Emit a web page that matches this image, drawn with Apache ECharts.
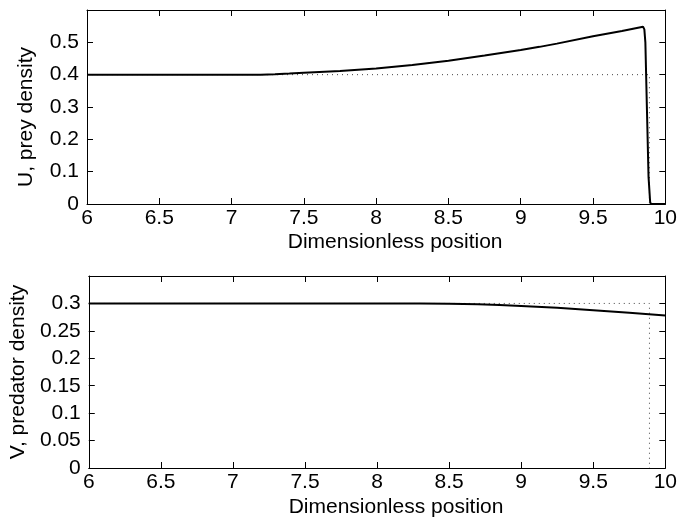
<!DOCTYPE html>
<html>
<head>
<meta charset="utf-8">
<script src="https://cdn.jsdelivr.net/npm/echarts@6/dist/echarts.min.js"></script>
<style>html,body{margin:0;padding:0;background:#fff}#c{width:680px;height:523px}</style>
</head>
<body>
<div id="c"></div>
<script>
// Top panel: prey density U
var uPos = [6, 6.5, 7.0, 7.2, 7.3, 7.4, 7.5, 7.75, 8.0, 8.25, 8.5, 8.75, 9.0, 9.13, 9.25, 9.5, 9.7, 9.846, 9.855, 9.862, 9.873, 9.884, 9.895, 9.90, 10];
var uVal = [0.4, 0.4, 0.4, 0.4, 0.4015, 0.4035, 0.406, 0.411, 0.419, 0.430, 0.443, 0.459, 0.476, 0.486, 0.496, 0.519, 0.535, 0.548, 0.54, 0.50, 0.29, 0.083, 0.007, 0, 0];
var uInitPos = [6, 9.89, 9.89];
var uInitVal = [0.4, 0.4, 0];
// Bottom panel: predator density V
var vPos = [6, 7.0, 8.0, 8.3, 8.5, 8.7, 8.85, 9.0, 9.25, 9.5, 9.75, 10];
var vVal = [0.3, 0.3, 0.3, 0.2998, 0.2994, 0.2985, 0.297, 0.2955, 0.292, 0.2875, 0.283, 0.278];
var vInitPos = [6, 9.89, 9.89];
var vInitVal = [0.3, 0.3, 0];
// Axis settings
var xTicks = [6, 6.5, 7, 7.5, 8, 8.5, 9, 9.5, 10];
var uTickStep = 0.1, uMax = 0.6;
var vTickStep = 0.05, vMax = 0.35;
var xName = 'Dimensionless position';
var uName = 'U, prey density';
var vName = 'V, predator density';

function zip(a, b) { return a.map(function (x, i) { return [x, b[i]]; }); }

var FONT = 'Liberation Sans';
var FS = 21;

function xAx(gi, pos, show, gap) {
  return {
    type: 'value', gridIndex: gi, position: pos, min: xTicks[0], max: xTicks[xTicks.length - 1], interval: 0.5,
    axisLine: { show: true, onZero: false, lineStyle: { color: '#000', width: 1 } },
    axisTick: { show: true, inside: true, length: 6, lineStyle: { color: '#000' } },
    axisLabel: { show: show, color: '#000', fontFamily: FONT, fontSize: FS, margin: 4 },
    splitLine: { show: false },
    name: show ? xName : '', nameLocation: 'middle', nameGap: gap || 28,
    nameTextStyle: { color: '#000', fontFamily: FONT, fontSize: FS, padding: [0, 0, 0, 38] }
  };
}
function yAx(gi, pos, show, step, mx, nm, gap, pad) {
  return {
    type: 'value', gridIndex: gi, position: pos, min: 0, max: mx, interval: step,
    axisLine: { show: true, onZero: false, lineStyle: { color: '#000', width: 1 } },
    axisTick: { show: true, inside: true, length: 6, lineStyle: { color: '#000' } },
    axisLabel: { show: show, showMaxLabel: false, color: '#000', fontFamily: FONT, fontSize: FS, margin: 8 },
    splitLine: { show: false },
    name: show ? nm : '', nameLocation: 'middle', nameGap: gap || 52,
    nameTextStyle: { color: '#000', fontFamily: FONT, fontSize: FS, padding: pad || 0 }
  };
}

var chart = echarts.init(document.getElementById('c'));
chart.setOption({
  animation: false,
  backgroundColor: '#fff',
  grid: [
    { left: 87, right: 11, top: 10, height: 194 },
    { left: 87, right: 11, top: 276, height: 192 }
  ],
  xAxis: [xAx(0, 'bottom', true, 28), xAx(1, 'bottom', true, 29), xAx(0, 'top', false), xAx(1, 'top', false)],
  yAxis: [yAx(0, 'left', true, uTickStep, uMax, uName, 50, [0, 20, 0, 0]), yAx(1, 'left', true, vTickStep, vMax, vName, 52, 0),
          yAx(0, 'right', false, uTickStep, uMax, ''), yAx(1, 'right', false, vTickStep, vMax, '')],
  series: [
    { type: 'line', xAxisIndex: 0, yAxisIndex: 0, data: zip(uInitPos, uInitVal), showSymbol: false, z: 1,
      lineStyle: { color: '#444', width: 1, type: [1, 4] } },
    { type: 'line', xAxisIndex: 0, yAxisIndex: 0, data: zip(uPos, uVal), showSymbol: false, z: 2,
      lineStyle: { color: '#000', width: 2 } },
    { type: 'line', xAxisIndex: 1, yAxisIndex: 1, data: zip(vInitPos, vInitVal), showSymbol: false, z: 1,
      lineStyle: { color: '#444', width: 1, type: [1, 4] } },
    { type: 'line', xAxisIndex: 1, yAxisIndex: 1, data: zip(vPos, vVal), showSymbol: false, z: 2,
      lineStyle: { color: '#000', width: 2 } }
  ]
});
</script>
</body>
</html>
